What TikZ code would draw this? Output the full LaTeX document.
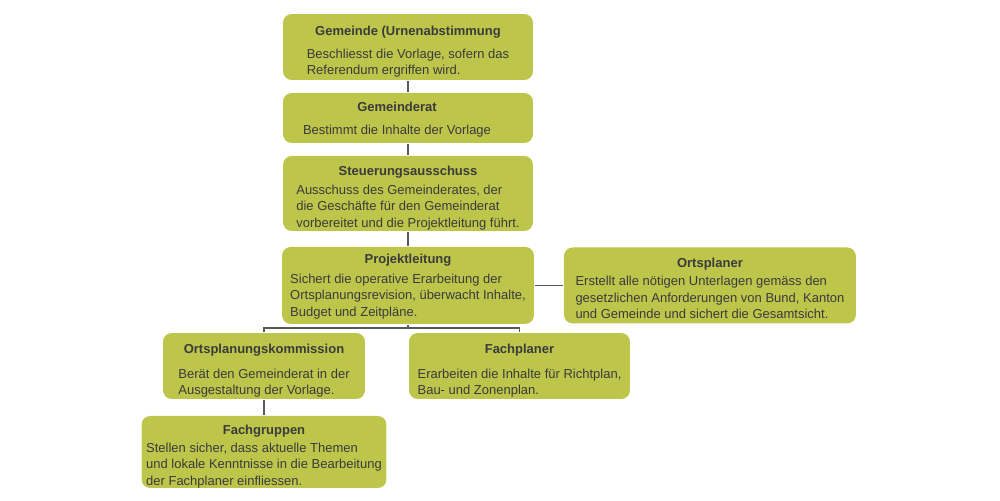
\documentclass[tikz,border=0pt]{standalone}
\usepackage{fontspec}
\setmainfont{Liberation Sans}
\usepackage{xcolor}
\usepackage{tikz}
\usetikzlibrary{calc}
\usetikzlibrary{positioning}

\definecolor{boxgreen}{HTML}{BDC54B}
\definecolor{textgray}{HTML}{3B3B3B}
\definecolor{linegray}{HTML}{585858}

\newlength{\orgdrop}
\setlength{\orgdrop}{6.5pt}
% title centred, body as a left aligned block
\newcommand{\orgtext}[3][1pt]{\textbf{#2}\\[#1]\raisebox{0pt}[\height][\dimexpr\depth-\orgdrop\relax]{\begin{tabular}[t]{@{}l@{}}#3\end{tabular}}}

\begin{document}
\begin{tikzpicture}[-,x=0.02cm,y=-0.02cm,line width=0.9pt,linegray]
				\tikzstyle{org}=[fill=boxgreen, text=textgray, rounded corners=5pt, align=center, inner sep=2pt, font=\fontsize{7.4}{9.4}\selectfont]
				\useasboundingbox (0,0) rectangle (1000,500);
					\node[org, minimum width=5cm, minimum height=1.32cm] (G) at (408,47)
						{\orgtext[3.7pt]{Gemeinde (Urnenabstimmung}{Beschliesst die Vorlage, sofern das\\Referendum ergriffen wird.}};
					\node[org, minimum width=5cm, minimum height=1cm, below of=G, node distance=1.42cm] (R)
						{\orgtext[3.7pt]{Gemeinderat\hspace*{0.44cm}}{Bestimmt die Inhalte der Vorlage\hspace*{0.44cm}}};
					\node[org, minimum width=5cm, minimum height=1.5cm, below of=R, node distance=1.51cm] (S)
						{\orgtext[1.4pt]{Steuerungsausschuss}{Ausschuss des Gemeinderates, der\\die Geschäfte für den Gemeinderat\\vorbereitet und die Projektleitung führt.}};
					\node[org, minimum width=5.04cm, minimum height=1.54cm, below of=S, node distance=1.84cm,
							execute at begin node={\setlength{\orgdrop}{2.5pt}}] (P)
						{\orgtext[2pt]{Projektleitung}{Sichert die operative Erarbeitung der\\Ortsplanungsrevision, überwacht Inhalte,\\Budget und Zeitpläne.}};
					\node[org, minimum width=5.84cm, minimum height=1.52cm, right of=P, node distance=6.04cm] (OP)
						{\orgtext[0.9pt]{Ortsplaner}{Erstellt alle nötigen Unterlagen gemäss den\\gesetzlichen Anforderungen von Bund, Kanton\\und Gemeinde und sichert die Gesamtsicht.}};
					\node[org, minimum width=4.04cm, minimum height=1.32cm] (K) at (264,366)
						{\orgtext[4.8pt]{Ortsplanungskommission}{Berät den Gemeinderat in der\\Ausgestaltung der Vorlage.}};
					\node[org, minimum width=4.42cm, minimum height=1.32cm] (F) at (519.5,366)
						{\orgtext[4.8pt]{Fachplaner}{Erarbeiten die Inhalte für Richtplan,\\Bau- und Zonenplan.}};
					\node[org, minimum width=4.9cm, minimum height=1.44cm, below of=K, node distance=1.72cm] (FG)
						{\orgtext[0.9pt]{Fachgruppen}{Stellen sicher, dass aktuelle Themen\\und lokale Kenntnisse in die Bearbeitung\\der Fachplaner einfliessen.}};
					\coordinate (bus) at ($(P.south)+(0,3)$);
					\path
								(G) edge (R)
								(R) edge (S)
								(S) edge (P)
								(P) edge (OP)
								(K) edge (FG);
					\draw (P.south) -- (bus) -| (K.north);
					\draw (bus) -| (F.north);
				\end{tikzpicture}
\end{document}
